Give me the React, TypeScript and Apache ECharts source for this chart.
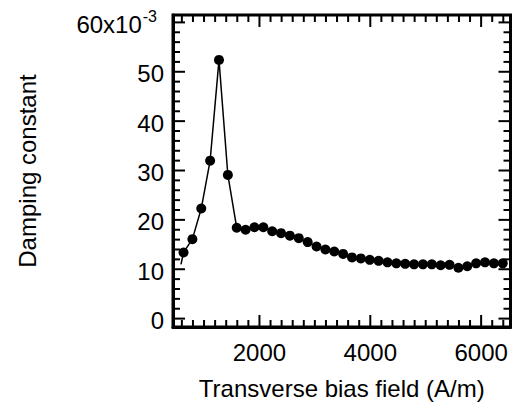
import { useEffect, useRef } from 'react';
import * as echarts from 'echarts';

// Transverse bias field (A/m)
const fieldValues = [
  630, 790, 950, 1110, 1270, 1430, 1590, 1750, 1910, 2070, 2230, 2390, 2550,
  2710, 2870, 3030, 3190, 3350, 3510, 3670, 3830, 3990, 4150, 4310, 4470,
  4630, 4790, 4950, 5110, 5270, 5430, 5590, 5750, 5910, 6070, 6230, 6390,
];
// Damping constant (x10^-3)
const dampingValues = [
  13.4, 16.1, 22.3, 32.0, 52.4, 29.1, 18.4, 18.0, 18.5, 18.5, 17.7, 17.3, 16.8,
  16.3, 15.5, 14.6, 14.0, 13.6, 13.1, 12.4, 12.2, 11.9, 11.7, 11.4, 11.2,
  11.1, 11.0, 11.0, 11.0, 10.8, 10.9, 10.3, 10.6, 11.2, 11.4, 11.2, 11.2,
];
// line tail entering from the left (no marker)
const tailPoint = [584, 11.0];

const xMajorTicks = [2000, 4000, 6000];
const xMinorTicks = [
  600, 800, 1000, 1200, 1400, 1600, 1800, 2200, 2400, 2600, 2800, 3000, 3200,
  3400, 3600, 3800, 4200, 4400, 4600, 4800, 5000, 5200, 5400, 5600, 5800,
  6200, 6400,
];
const yMajorTicks = [0, 10, 20, 30, 40, 50, 60];
const yMinorTicks = [
  2, 4, 6, 8, 12, 14, 16, 18, 22, 24, 26, 28, 32, 34, 36, 38, 42, 44, 46, 48,
  52, 54, 56, 58,
];

const X_MIN = 440;
const X_MAX = 6530;
const Y_MIN = -1.7;
const Y_MAX = 61.5;

const FONT = '"Liberation Sans", Arial, Helvetica, sans-serif';
const FS = 24;
const MAJOR_LEN = 12;
const MINOR_LEN = 7;

export default function App() {
  const ref = useRef<HTMLDivElement>(null);

  useEffect(() => {
    if (!ref.current) return;
    const chart = echarts.init(ref.current, undefined, { renderer: 'svg' });

    // ticks along x: each datum is [tickValue, Y_MIN, Y_MAX]
    const xTickSeries = (values: number[], len: number) => ({
      type: 'custom',
      clip: false,
      data: values.map((v) => [v, Y_MIN, Y_MAX]),
      encode: { x: 0, y: 1 },
      renderItem: (_p: any, api: any) => {
        const b = api.coord([api.value(0), api.value(1)]);
        const t = api.coord([api.value(0), api.value(2)]);
        return {
          type: 'group',
          children: [
            { type: 'rect', shape: { x: b[0] - 1, y: b[1] - len, width: 2, height: len }, style: { fill: '#000' } },
            { type: 'rect', shape: { x: t[0] - 1, y: t[1], width: 2, height: len }, style: { fill: '#000' } },
          ],
        };
      },
    });
    // ticks along y: each datum is [X_MIN, tickValue, X_MAX]
    const yTickSeries = (values: number[], len: number) => ({
      type: 'custom',
      clip: false,
      data: values.map((v) => [X_MIN, v, X_MAX]),
      encode: { x: 0, y: 1 },
      renderItem: (_p: any, api: any) => {
        const l = api.coord([api.value(0), api.value(1)]);
        const r = api.coord([api.value(2), api.value(1)]);
        return {
          type: 'group',
          children: [
            { type: 'rect', shape: { x: l[0], y: l[1] - 1, width: len, height: 2 }, style: { fill: '#000' } },
            { type: 'rect', shape: { x: r[0] - len, y: r[1] - 1, width: len, height: 2 }, style: { fill: '#000' } },
          ],
        };
      },
    });

    const seriesData: any[] = [
      { value: tailPoint, symbol: 'none' },
      ...fieldValues.map((x, i) => [x, dampingValues[i]]),
    ];

    chart.setOption({
      animation: false,
      grid: {
        left: 173,
        top: 15,
        right: 7.5,
        bottom: 93,
        show: true,
        borderColor: '#000',
        borderWidth: 3,
        backgroundColor: 'transparent',
      },
      xAxis: {
        type: 'value',
        min: X_MIN,
        max: X_MAX,
        splitNumber: 3,
        splitLine: { show: false },
        axisLine: { show: true, onZero: false, lineStyle: { color: '#000', width: 3 } },
        axisTick: { show: false },
        name: 'Transverse bias field (A/m)',
        nameLocation: 'middle',
        nameGap: 49,
        nameTextStyle: { fontSize: FS, color: '#000', fontFamily: FONT },
        axisLabel: {
          margin: 13,
          fontSize: FS,
          color: '#000',
          fontFamily: FONT,
          showMinLabel: false,
          showMaxLabel: false,
          formatter: (v: number) => (xMajorTicks.indexOf(v) >= 0 ? String(v) : ''),
        },
      },
      yAxis: {
        type: 'value',
        min: Y_MIN,
        max: Y_MAX,
        splitNumber: 6,
        splitLine: { show: false },
        axisLine: { show: true, lineStyle: { color: '#000', width: 3 } },
        axisTick: { show: false },
        name: 'Damping constant',
        nameLocation: 'middle',
        nameGap: 134,
        nameTextStyle: { fontSize: FS, color: '#000', fontFamily: FONT },
        axisLabel: {
          margin: 9,
          fontSize: FS,
          color: '#000',
          fontFamily: FONT,
          showMinLabel: false,
          showMaxLabel: false,
          formatter: (v: number) =>
            yMajorTicks.indexOf(v) < 0
              ? ''
              : v === 60
                ? '{a|60x10}{b|-3}'
                : '{a|' + v + '}',
          rich: {
            a: { fontSize: FS, fontFamily: FONT, color: '#000', lineHeight: 28, verticalAlign: 'bottom' },
            b: { fontSize: 16, fontFamily: FONT, color: '#000', lineHeight: 28, verticalAlign: 'top', padding: [0, 7, 0, 1] },
          },
        },
      },
      series: [
        xTickSeries(xMajorTicks, MAJOR_LEN),
        xTickSeries(xMinorTicks, MINOR_LEN),
        yTickSeries(yMajorTicks, MAJOR_LEN),
        yTickSeries(yMinorTicks, MINOR_LEN),
        {
          type: 'line',
          data: seriesData,
          symbol: 'circle',
          symbolSize: 10,
          showAllSymbol: true,
          itemStyle: { color: '#000' },
          lineStyle: { color: '#000', width: 1.5 },
        },
      ],
    });

    return () => chart.dispose();
  }, []);

  return (
    <div
      ref={ref}
      style={{ position: 'absolute', left: 0, top: 0, width: 518, height: 420 }}
    />
  );
}
